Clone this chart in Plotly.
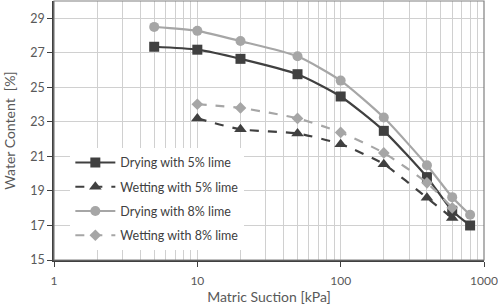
import plotly.graph_objects as go

suction_dry = [5, 10, 20, 50, 100, 200, 400, 600, 800]
suction_wet = [10, 20, 50, 100, 200, 400, 600]
drying_5 = [27.35, 27.18, 26.65, 25.76, 24.47, 22.48, 19.8, 17.85, 17.0]
wetting_5 = [23.2, 22.57, 22.33, 21.71, 20.55, 18.6, 17.43]
drying_8 = [28.5, 28.27, 27.68, 26.8, 25.39, 23.25, 20.49, 18.64, 17.62]
wetting_8 = [24.02, 23.81, 23.2, 22.39, 21.2, 19.47, 18.02]

x_ticks = [1, 10, 100, 1000]
x_minor = [m * d for d in (1, 10, 100) for m in range(2, 10)]
y_ticks = [15, 17, 19, 21, 23, 25, 27, 29]

DARK = "#404040"
LIGHT = "#a6a6a6"
FONT = "Lato"

fig = go.Figure()
series = [
    ("Drying with 5% lime", suction_dry, drying_5, DARK, "solid", "square", 10),
    ("Wetting with 5% lime", suction_wet, wetting_5, DARK, "dash", "triangle-up", 11),
    ("Drying with 8% lime", suction_dry, drying_8, LIGHT, "solid", "circle", 10),
    ("Wetting with 8% lime", suction_wet, wetting_8, LIGHT, "dash", "diamond", 9),
]
for i, (name, xs, ys, col, dash, sym, size) in enumerate(series):
    fig.add_trace(go.Scatter(
        x=xs, y=ys, name=name, mode="lines+markers",
        line=dict(color=col, width=2.2, dash=dash, shape="spline", smoothing=0.6),
        marker=dict(symbol=sym, size=size, color=col),
        legendgroup=f"g{i}",
    ))

fig.update_layout(
    width=498, height=306,
    margin=dict(l=54, r=14, t=1, b=46, autoexpand=False),
    paper_bgcolor="white", plot_bgcolor="white",
    font=dict(family=FONT, size=12, color="#595959"),
    showlegend=True,
    legend=dict(
        x=0.038, y=0.433, xanchor="left", yanchor="top",
        bgcolor="white", borderwidth=0,
        font=dict(family=FONT, size=12.5, color="#404040"),
        tracegroupgap=5, traceorder="grouped",
        itemwidth=40,
    ),
)
fig.update_xaxes(
    type="log", range=[0, 3.0],
    tickvals=x_ticks, ticktext=[str(v) for v in x_ticks],
    ticks="outside", ticklen=5, tickcolor="#404040",
    showline=True, linecolor="#404040", linewidth=1.5, mirror=False,
    showgrid=True, gridcolor="#d0d0d0", gridwidth=1.2,
    minor=dict(tickvals=x_minor, showgrid=True, gridcolor="#d0d0d0", gridwidth=1.2, ticks=""),
    title=dict(text="Matric Suction [kPa]", font=dict(family=FONT, size=14, color="#595959"), standoff=5),
    tickfont=dict(family=FONT, size=12, color="#595959"),
    ticklabelstandoff=4,
    zeroline=False, automargin=False,
)
fig.update_yaxes(
    range=[15, 30],
    tickvals=y_ticks,
    ticks="outside", ticklen=5, tickcolor="#404040",
    showline=True, linecolor="#404040", linewidth=1.5,
    showgrid=True, gridcolor="#d0d0d0", gridwidth=1.2,
    title=dict(text="Water Content  [%]", font=dict(family=FONT, size=14, color="#595959"), standoff=11),
    tickfont=dict(family=FONT, size=12.5, color="#595959"),
    zeroline=False, automargin=False,
)
# top and right frame
fig.add_shape(type="rect", xref="paper", yref="paper", x0=0, y0=0, x1=1, y1=1,
              line=dict(color="#808080", width=1.2), layer="above")

fig.write_html("out.html", config={"displayModeBar": False},
               post_script="document.body.style.margin='0px';")
